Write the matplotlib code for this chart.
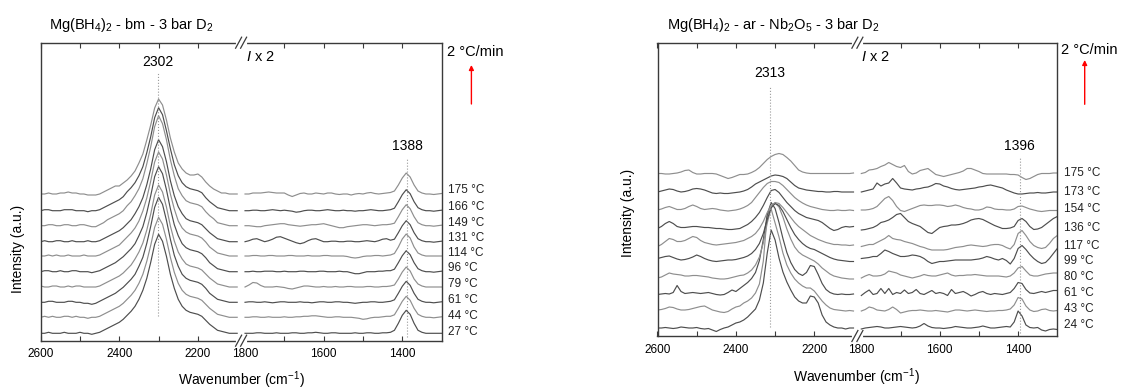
import numpy as np
import matplotlib
matplotlib.use("Agg")
import matplotlib.pyplot as plt
from matplotlib.lines import Line2D
from matplotlib.patches import FancyArrowPatch

plt.rcParams['font.family'] = ['Liberation Sans', 'DejaVu Sans']
plt.rcParams['mathtext.fontset'] = 'custom'
plt.rcParams['mathtext.rm'] = 'Liberation Sans'
plt.rcParams['mathtext.it'] = 'Liberation Sans:italic'
plt.rcParams['mathtext.bf'] = 'Liberation Sans:bold'

# ---------------- data ----------------
wn_hi = np.arange(2600, 2099, -10)   # 2600 ... 2100 cm-1
wn_lo = np.arange(1800, 1299, -10)   # 1800 ... 1300 cm-1 (shown x 2)

left_labels = ['27 °C', '44 °C', '61 °C', '79 °C', '96 °C', '114 °C', '131 °C', '149 °C', '166 °C', '175 °C']
right_labels = ['24 °C', '43 °C', '61 °C', '80 °C', '99 °C', '117 °C', '136 °C', '154 °C', '173 °C', '175 °C']
left_peaks = [2302, 1388]
right_peaks = [2313, 1396]

# Left panel: Mg(BH4)2 - bm  (intensity, arbitrary units)
L27_hi = [0,0,1,0,0,0,1,0,0,0,1,0,0,-1,0, 1,3,5,7,9,11,14,18,22,27,34,43,55,71,89,99,92,77,59,45,34,27,23,21,20,19,17,13,9,6,3,2,1,0,0,0]
L44_hi = [0,1,0,1,0,0,1,1,0,1,0,0,-1,0,0, 1,3,5,7,9,11,14,18,22,27,34,43,56,72,90,100,93,78,60,45,34,27,23,21,20,19,17,13,9,6,3,2,1,0,0,0]
L61_hi = [0,0,1,1,0,0,0,1,1,0,0,-1,-1,-2,-1, 1,3,5,7,9,12,15,19,23,28,36,45,59,76,95,105,98,82,63,47,36,28,24,22,21,20,18,14,9,6,3,2,1,0,0,0]
L79_hi = [1,0,0,1,1,0,0,1,0,1,1,0,0,0,0, 1,3,5,7,9,11,14,18,22,28,35,44,57,73,92,102,95,80,61,46,35,28,23,21,20,19,17,13,9,6,3,2,1,0,0,0]
L96_hi = [0,1,1,0,0,1,0,0,1,1,0,0,0,-1,0, 1,3,5,7,9,12,15,19,23,28,36,45,59,76,95,105,98,82,63,47,36,28,24,22,21,20,18,14,9,6,3,2,1,0,0,0]
L114_hi = [0,0,1,0,1,0,0,1,0,0,0,1,0,0,0, 1,3,5,7,9,11,15,19,23,28,35,45,58,75,94,104,97,81,62,47,35,28,24,22,21,20,18,14,9,6,3,2,1,0,0,0]
L131_hi = [0,1,0,0,1,1,0,0,1,0,0,0,1,0,0, 1,3,5,7,9,11,14,18,22,28,35,44,57,73,92,102,95,80,61,46,35,28,23,21,20,19,17,13,9,6,3,2,1,0,0,0]
L149_hi = [0,0,1,1,0,0,1,1,0,0,1,1,0,-1,-1, 1,3,6,8,10,12,15,20,24,30,37,47,62,79,99,110,102,86,66,50,37,30,25,23,22,21,19,14,10,7,3,2,1,0,0,0]
L166_hi = [0,1,1,0,0,0,1,1,1,0,0,0,-1,0,0, 1,3,5,7,9,11,14,19,23,28,35,44,58,74,93,103,96,80,62,46,35,28,24,22,21,20,18,13,9,6,3,2,1,0,0,0]
L175_hi = [0,0,1,0,0,1,1,2,1,1,0,0,-1,-1,-1, 0,2,4,6,8,8,11,14,18,23,31,40,54,69,86,95,89,74,56,42,31,25,21,19,19,20,17,12,8,5,3,1,1,0,0,0]

L27_lo = [0,0,0,0.5,0.5,0,0,0,0.5,0, 0,0,0.5,0.5,0,0,0.5,0.5,1,0.5, 0,0,0.5,0.5,0,0,0,0,0.5,0, 0,0.5,0.5,0,0,0.5,0.5,1, 3,10,18,23,19,10,3,1,0,0,0,0,0]
L44_lo = [0,0,0.5,0.5,0,0,0.5,0,0,0, 0.5,0,0,0.5,0.5,1,1,1.5,1.5,1, 0.5,0,0,0.5,0.5,0,0,0,-0.5,-1, -2,-1.5,-0.5,0,0,0.5,1,1, 2.5,9,16,21,17,9,3,1,0,0,-0.5,0,0.5]
L61_lo = [0,0.5,0.5,0,0,0.5,0,-0.5,0,0.5, 0.5,0,0,0,0.5,0,0,-0.5,0,0.5, 0.5,0,0,0.5,0.5,0,0,-0.5,-1,-0.5, 0,0,0.5,0.5,0,0,0.5,1, 2.5,9,16,21,17,9,3,1,0,0,-0.5,0,0.5]
L79_lo = [0,2,4.5,4,1.5,0,0,0,0.5,0, -0.5,-1.5,-2,-1,0,1,1,0.5,0,0, 0.5,0,0,0.5,0,0,0.5,0.5,0,0, 0,0.5,0.5,0,0,0.5,0.5,1, 2,8,15,20,16,8,3,1,0,0,0,0,0]
L96_lo = [0,0,0.5,0,0,0.5,0.5,0.5,0,0, 0.5,0,0,0,0.5,0.5,0,0,0,0.5, 0.5,0,0,0,0.5,0,0,-1,-2,-2, -1,0,0,0,0.5,0.5,1,1, 2.5,9,16,21,17,9,3,1,0,0,-0.5,0,0.5]
L114_lo = [0,0,0.5,0.5,0,0,0.5,0.5,0,0, 0,0.5,0.5,0,0,0,0.5,0,0,0, 0.5,0.5,0,0,0,0,-0.5,-1.5,-2,-1.5, -0.5,0,0,0.5,0.5,0,0.5,1, 2.5,9,17,22,18,9,3,1,0,0,0,0,0]
L131_lo = [0,1,2.5,3,1.5,0,1,2.5,4.5,5, 3.5,2,0.5,-1,-2,-1,1,2.5,3,1.5, 0,0,0.5,0.5,0,0,0.5,0.5,0,0, 0.5,1,0.5,0,1,2.5,3,1.5, 2.5,9,16,21,17,9,3,1,0,0,-0.5,0,0.5]
L149_lo = [0,0,-0.5,-1,-1,0,0.5,1,1.5,2, 2,1,0.5,0,-0.5,0,0.5,1,1,1.5, 2,1,0,-1,-2,-2,-1,-0.5,0,0.5, 1,1,0.5,0,0.5,1,1,1.5, 2.5,9,16,21,17,9,3,1,0,0,-0.5,0,0.5]
L166_lo = [0,0,0.5,0.5,0,0,0.5,1,0.5,0, 0.5,0,-0.5,-1.5,-1,0,0.5,0.5,0,0, 0.5,1,0.5,0,0,0.5,0,0,-0.5,0, 0,0.5,1,0.5,0,0,0.5,1, 2.5,9,16,21,17,9,3,1,0,0,-0.5,0,0.5]
L175_lo = [0,0,1,1,1,1.5,2,1.5,1,1, 1,-1,-2.5,-1,0.5,1,0,0,1,0.5, 0,1,1,0,-0.5,0,0,-1,0,0.5, 0,1,1.5,0.5,0,0.5,1,1.5, 3,9,16,21,17,9,3,1,0,0,-0.5,0,0.5]

# Right panel: Mg(BH4)2 - ar - Nb2O5
R24_hi = [0,0,0.5,0,-0.5,0,1,0.5,0,0, 0.5,-0.5,-1,-0.5,-2,-3.5,-1.5,0,1,3,
          5,6,8,11,15,19,28,45,75,98, 88,70,56,46,38,31,27,25,25,32, 31,25,13,6,3,1,0,0,-1,0, 0]
R43_hi = [1,1.5,2.5,4,3.5,2,1,1,1.5,2.5, 3.5,4.5,5,3,1,0,-1,-1.5,-0.5,2, 4,
          5,8,10,13,18,27,50,96,102,88, 74,58,46,38,32,28,25,23,23,20, 15,10,6,3,1.5,1,0.5,0,0.5,0]
R61_hi = [0,0.5,1,0.5,2,9,3,1,1.5,2, 1.5,1,1.5,2,1,0,-0.5,0,2,4.5, 3,
          6,9,12,16,22,34,55,80,92,86, 72,56,42,32,25,21,19,22,29,28, 20,11,5,2,0.5,0,0.5,0,0,0.5]
R80_hi = [1,2,4,6,5,4.5,4,3,3,3.5, 3.5,3,2.5,2,1,0.5,0,0,0.5,1.5, 2.5,
          3.5,4,6,9,14,22,36,56,71,76, 72,62,50,40,32,27,24,22,20,18, 15,11,8,5,3,2,1,0.5,0,0]
R99_hi = [3,4,5,5.5,4,2.5,1.5,2,3,4.5, 6.5,5,3,1.5,0.5,0,0.5,1,1.5,1.5, 2,
          3,4,5.5,8,12,18,28,42,54,58, 56,50,42,34,27,22,18,15,13,12, 10,8,6,4,2.5,1.5,1,0.5,0,0]
R117_hi = [1,3,6,9,8,6,6,7,9,11, 10,7,5,4,3,2.5,3,3.5,4,4.5, 5,
           6,7,9,11,14,19,26,35,42,45, 44,40,35,30,25,21,18,15,12,10, 8,6.5,5,4,3,3,2.5,2.5,2,2.5]
R136_hi = [1,3,6,8,6,3,2,2,2.5,3, 3,2.5,2,2,1.5,1,1,0.5,0,0, 0.5,
           1,3,5,8,12,17,24,32,39,40, 37,32,27,23,19,16,14,12,11,10, 9,7,4,1,-1,0,2,3,2.5,3]
R154_hi = [0.5,1.5,3,4,2.5,1,1,2,4,5.5, 4,2,1,1.5,2,1.5,0.5,0,-0.5,0, 0.5,
           1.5,3,5,8,13,18,23,27,29,29, 28,25,21,17,13,10,7.5,5.5,4,3, 2,1,0.5,0,0,0.5,0,0,0.5,0]
R173_hi = [0,1,2,3,2.5,1,0,0.5,1.5,3, 3.5,3,2,0.5,-1,-1.5,-1,-1.5,-1.5,-1, -0.5,
           0,1,2.5,5,8,10,12,14,16,17, 16.5,15.5,13.5,10,6.5,4,3,2,1.5,1, 0.5,0.5,0,0,0.5,0.5,0,0,0,0]
R175_hi = [1,1,0.5,0.5,1,1.5,2.5,4,4.5,2, 0.5,0.5,1,1,1,0.5,-1,-2.5,-4,-3, -1.5,
           0,0,0.5,2,4,7,11,15,18,20, 21,20,17,13.5,9,4.5,2.5,1.5,1,1, 1,1,1,1,1,1,1,1,1,1.5]

R24_lo = [-1,0,0.5,1,1.5,1,0,0,0.5,1, 1.5,1,0.5,0,0.5,2,4.5,2,0.5,0, 0,-0.5,0,0.5,1.5,1,0.5,0,0,0.5, 1,2,1,0,0,0.5,1,1.5,
          1,6,17,12,3,0.5,0,0.5,-2,-3,-1.5,-1,-1.5]
R43_lo = [0,1.5,4,3,1,0.5,0,1.5,4,1.5, -2,-1,0,0.5,0.5,1,0.5,0,0,0.5, 0,-0.5,-1,0,1,1,0.5,0,0.5,1, 0.5,0,-0.5,0,0,0.5,0.5,1,
          2,6,13.5,12,5,1,-0.5,0,1.5,2,0.5,0,0.5]
R61_lo = [-1,2,4.5,0,1,6,1,6,0,2, 1,4.5,1,2,5,1,0,2,4,1, 2,1,-1,5,1,2,3,1,-1.5,0, 2,3,1,0,1,0.5,0,1,
          2,6,12,11,5,1.5,1,2,3,2,3,4,4]
R80_lo = [1,3,4.5,3,3,3.5,5,8,7,6, 4,3,2,1,2,3,4.5,3.5,3,3, 4,5,6,4,3,3.5,3.5,4,4,4.5, 4,3.5,3,3,3,3,2.5,2,
          3,6,11,12.5,8,4,3,3,4,5,5.5,6,6]
R99_lo = [3,3.5,4,5,5,8,11.5,10,8,6.5, 5,5,5.5,6.5,6,5,3,0,-2,-1, 0,0,0.5,1,1.5,1.5,1.5,1.5,1.5,2, 2.5,3.5,5,4,2.5,1.5,3,1,
          -2.5,3,13,16,12,7,3,0,-2,-1,3,8,13]
R117_lo = [1,2,3,3,5,7,9,12,9,8, 7.5,6,5,4,2.5,1,0,-1.5,-2.5,-2.5, -2.5,-2.5,-2,-1,0,0.5,1,2,2.5,2, 1.5,1,1.5,2.5,3,3,2,0,
           -1.5,3,14,17,12,6,2,0,-1,0,4,9,12]
R136_lo = [-0.5,0,1,2,4,7,8,9.5,12,15, 16,12,8,6,4.5,3,0,-3,-4,-1, 2,3,3.5,4.5,4.5,5,6,7.5,9.5,10.5, 11,10,8,6,4,2.5,1,1,
           1.5,3,9,11,8,3,0,0.5,2,5,8,11,13]
R154_lo = [0.5,0.5,1,2,4,8,12,14,10,4, 0,-1,0.5,2,3.5,5,5.5,5,5,5.5, 5.5,5,4,4.5,5.5,4.5,3,2,1.5,0.5, 0.5,1.5,3.5,3,1.5,1,1,0.5,
           0.5,1.5,4,4.5,3,1.5,0.5,-0.5,-1,-0.5,0,0,0]
R173_lo = [0,1,2,3,9,6,8,9,13.5,9, 4,3,2.5,2,3,3.5,4.5,5,6.5,8.5, 8,6,5,3.5,2.5,2,2.5,3,3.5,4, 5,5.5,6.5,7,6,5,4,2,
           0.5,-1,-2,-2,-1.5,-1,-1,-0.5,-1,-1,-0.5,0,0]
R175_lo = [1,2,4.5,5,6,8,9.5,12,10,8, 7,9,3,0.5,1.5,4,5,6,3,0, -1,-2,-1,0,1,2,3.5,6,6,4.5, 3,1,0.5,0.5,0.5,0.5,0.5,0.5,
           0,0,-0.5,-3,-5,-4,-2,0,1,1,1,1.5,1.5]

left_hi = [L27_hi, L44_hi, L61_hi, L79_hi, L96_hi, L114_hi, L131_hi, L149_hi, L166_hi, L175_hi]
left_lo = [L27_lo, L44_lo, L61_lo, L79_lo, L96_lo, L114_lo, L131_lo, L149_lo, L166_lo, L175_lo]
right_hi = [R24_hi, R43_hi, R61_hi, R80_hi, R99_hi, R117_hi, R136_hi, R154_hi, R173_hi, R175_hi]
right_lo = [R24_lo, R43_lo, R61_lo, R80_lo, R99_lo, R117_lo, R136_lo, R154_lo, R173_lo, R175_lo]

# ---------------- layout (pixels) ----------------
W, H = 1121, 389
fig = plt.figure(figsize=(W / 100, H / 100), dpi=100)

def fx(x):
    return x / W

def fy(y):
    return 1 - y / H

LEFT = dict(x0=40.7, xb=241.1, x1=441.6, yt=42.7, yb=340.7, base=333.3,
            offsets=[0, 16, 31, 46.3, 61.6, 77.3, 91.6, 107.6, 122.6, 139.3],
            label_y=[1.6, 17.3, 33.3, 49, 65, 80.6, 95, 110, 126.6, 143.3],
            label_x=448, title_x=49.3, title='Mg(BH$_4$)$_2$ - bm - 3 bar D$_2$',
            peak_txt_y=[62.3, 145.7], peak_line=[(73, 316), (159, 336.7)],
            rate_x=447, rate_y=51.7, arrow_x=471.4, arrow_y=(104, 65),
            ylab=(17.9, 249), xlab=(241, 380), ix2_x=246, tick_pad=5.5)
RIGHT = dict(x0=657.5, xb=857.4, x1=1057.3, yt=42.7, yb=336.0, base=328.0,
             offsets=[0, 17, 33.5, 49, 66.5, 80.5, 98.5, 117.5, 136, 153.5],
             label_y=[3, 18.7, 34.7, 51.3, 67, 82.3, 100.3, 118.7, 136.3, 155.3],
             label_x=1064, title_x=667, title='Mg(BH$_4$)$_2$ - ar - Nb$_2$O$_5$ - 3 bar D$_2$',
             peak_txt_y=[73.3, 145.7], peak_line=[(86, 326.7), (156.7, 333)],
             rate_x=1061, rate_y=50, arrow_x=1084.7, arrow_y=(104.3, 60),
             ylab=(628, 213), xlab=(856, 376.7), ix2_x=861, tick_pad=5.5)

FRAME = '#3a3a3a'


def break_marks(xb, y):
    fig.add_artist(Line2D([fx(xb - 3.5), fx(xb + 3.5)], [fy(y), fy(y)], color='white', lw=3,
                          transform=fig.transFigure, zorder=5))
    for dx in (-2.5, 2.5):
        fig.add_artist(Line2D([fx(xb + dx - 3), fx(xb + dx + 3)], [fy(y + 5.5), fy(y - 5.5)],
                              color=FRAME, lw=0.9, transform=fig.transFigure, zorder=6))


def draw_panel(g, hi_list, lo_list, labels, peaks):
    hh = (g['yb'] - g['yt']) / H
    axh = fig.add_axes([fx(g['x0']), fy(g['yb']), (g['xb'] - g['x0']) / W, hh])
    axl = fig.add_axes([fx(g['xb']), fy(g['yb']), (g['x1'] - g['xb']) / W, hh])
    base = g['base']
    ylim = (base - g['yb'], base - g['yt'])
    n = len(hi_list)
    for i, (hv, lv) in enumerate(zip(hi_list, lo_list)):
        col = '#8e8e8e' if (n - 1 - i) % 2 == 0 else '#4e4e4e'
        off = g['offsets'][i]
        axh.plot(wn_hi, np.asarray(hv, float) + off, color=col, lw=0.85)
        axl.plot(wn_lo, np.asarray(lv, float) + off, color=col, lw=0.85)
        axl.text(1 + (g['label_x'] - g['x1']) / (g['x1'] - g['xb']), g['label_y'][i], labels[i],
                 transform=axl.get_yaxis_transform(), ha='left', va='center', fontsize=8.5,
                 color='#222222')
    axh.set_xlim(2600, 2090)
    axl.set_xlim(1810, 1300)
    for ax in (axh, axl):
        ax.set_ylim(*ylim)
        ax.set_yticks([])
        for s in ax.spines.values():
            s.set_color(FRAME)
            s.set_linewidth(1.0)
        ax.tick_params(axis='x', which='both', direction='in', top=True, bottom=True,
                       length=3.5, width=0.8, color=FRAME, labelsize=8.5, pad=g['tick_pad'])
    axh.spines['right'].set_visible(False)
    axl.spines['left'].set_visible(False)
    axh.set_xticks([2600, 2400, 2200])
    axh.set_xticks([2500, 2300], minor=True)
    axl.set_xticks([1800, 1600, 1400])
    axl.set_xticks([1700, 1500], minor=True)
    t0 = axl.xaxis.get_major_ticks()[0]
    t0.tick1line.set_visible(False)
    t0.tick2line.set_visible(False)

    # peak markers
    (y0a, y1a), (y0b, y1b) = g['peak_line']
    axh.plot([peaks[0], peaks[0]], [base - y1a, base - y0a], ls=':', color='#9a9a9a', lw=0.8)
    axl.plot([peaks[1], peaks[1]], [base - y1b, base - y0b], ls=':', color='#9a9a9a', lw=0.8)
    axh.text(peaks[0], base - g['peak_txt_y'][0], str(peaks[0]), ha='center', va='center', fontsize=10)
    axl.text(peaks[1], base - g['peak_txt_y'][1], str(peaks[1]), ha='center', va='center', fontsize=10)

    # break marks
    break_marks(g['xb'], g['yt'])
    break_marks(g['xb'], g['yb'])

    # texts
    fig.text(fx(g['title_x']), fy(25), g['title'], ha='left', va='center', fontsize=10.5)
    fig.text(fx(g['ix2_x']), fy(57.3), r'$\mathit{I}$ x 2', ha='left', va='center', fontsize=10.5)
    fig.text(fx(g['rate_x']), fy(g['rate_y']), '2 °C/min', ha='left', va='center', fontsize=10.5)
    fig.add_artist(FancyArrowPatch((fx(g['arrow_x']), fy(g['arrow_y'][0])),
                                   (fx(g['arrow_x']), fy(g['arrow_y'][1])),
                                   transform=fig.transFigure, arrowstyle='-|>', mutation_scale=7,
                                   color='red', lw=1.0, shrinkA=0, shrinkB=0))
    fig.text(fx(g['ylab'][0]), fy(g['ylab'][1]), 'Intensity (a.u.)', rotation=90,
             ha='center', va='center', fontsize=10)
    fig.text(fx(g['xlab'][0]), fy(g['xlab'][1]), r'Wavenumber (cm$^{-1}$)',
             ha='center', va='center', fontsize=10)


draw_panel(LEFT, left_hi, left_lo, left_labels, left_peaks)
draw_panel(RIGHT, right_hi, right_lo, right_labels, right_peaks)

fig.savefig('out.png', dpi=100)
